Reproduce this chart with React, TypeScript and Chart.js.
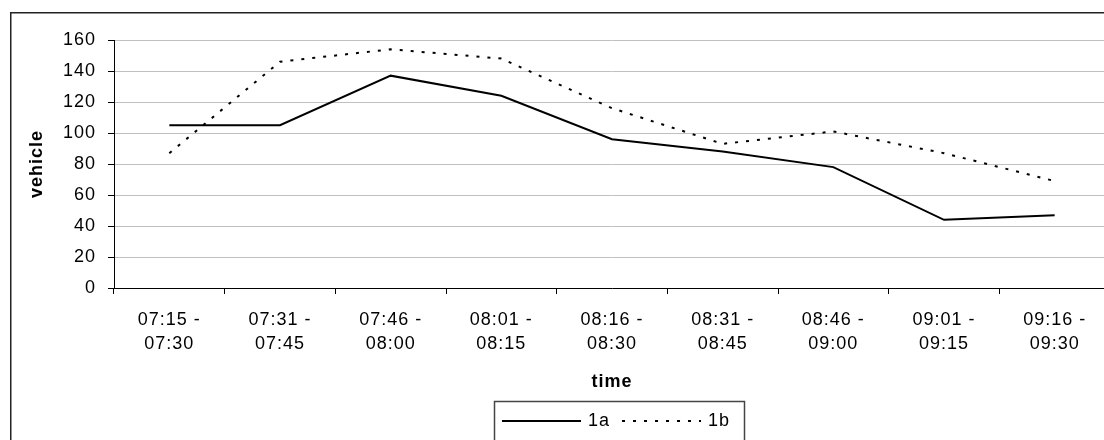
import React, { useEffect, useRef } from "react";
import { Chart, registerables } from "chart.js";

Chart.register(...registerables);

const categories: string[][] = [
  ["07:15 -", "07:30"],
  ["07:31 -", "07:45"],
  ["07:46 -", "08:00"],
  ["08:01 -", "08:15"],
  ["08:16 -", "08:30"],
  ["08:31 -", "08:45"],
  ["08:46 -", "09:00"],
  ["09:01 -", "09:15"],
  ["09:16 -", "09:30"],
];
const series1a: number[] = [105, 105, 137, 124, 96, 88, 78, 44, 47];
const series1b: number[] = [87, 146, 154, 148, 116, 93, 101, 87, 69];
const seriesNames: string[] = ["1a", "1b"];
const yTitle = "vehicle";
const xTitle = "time";

const FONT = "'Liberation Sans', Arial, sans-serif";
const FS = 18;

const spacing = {
  id: "spacing",
  beforeUpdate(chart: any) {
    chart.ctx.letterSpacing = "1px";
  },
  beforeDraw(chart: any) {
    chart.ctx.letterSpacing = "1px";
  },
};

const frameAndLegend = {
  id: "frameAndLegend",
  beforeDraw(chart: any) {
    const ctx = chart.ctx;
    ctx.save();
    ctx.fillStyle = "#ffffff";
    ctx.fillRect(0, 0, chart.width, chart.height);
    ctx.strokeStyle = "#222222";
    ctx.lineWidth = 1.5;
    ctx.strokeRect(10.75, 12.75, chart.width, chart.height);
    ctx.restore();
  },
  afterDraw(chart: any) {
    const ctx = chart.ctx;
    const area = chart.chartArea;
    const cx = (area.left + area.right) / 2 + 7;
    const boxW = 250;
    const left = cx - boxW / 2;
    const top = area.bottom + 113;
    ctx.save();
    ctx.strokeStyle = "#444444";
    ctx.lineWidth = 1.5;
    ctx.strokeRect(Math.round(left) + 0.5, Math.round(top) + 0.5, boxW, 60);
    ctx.font = `${FS}px ${FONT}`;
    ctx.textBaseline = "middle";
    ctx.fillStyle = "#000000";
    const midY = top + 20;
    let x = left + 8;
    chart.data.datasets.forEach((ds: any) => {
      ctx.strokeStyle = ds.borderColor;
      ctx.lineWidth = ds.borderWidth;
      ctx.setLineDash(ds.borderDash || []);
      ctx.beginPath();
      ctx.moveTo(x, midY);
      ctx.lineTo(x + 79, midY);
      ctx.stroke();
      ctx.setLineDash([]);
      const tx = x + 86;
      ctx.fillText(ds.label, tx, midY);
      x = tx + ctx.measureText(ds.label).width + 12;
    });
    ctx.restore();
  },
};

export default function App() {
  const canvasRef = useRef<HTMLCanvasElement | null>(null);

  useEffect(() => {
    if (!canvasRef.current) return;
    const chart = new Chart(canvasRef.current, {
      type: "line",
      data: {
        labels: categories,
        datasets: [
          {
            label: seriesNames[0],
            data: series1a,
            borderColor: "#000000",
            borderWidth: 2,
            pointRadius: 0,
            tension: 0,
            fill: false,
          },
          {
            label: seriesNames[1],
            data: series1b,
            borderColor: "#000000",
            borderWidth: 2,
            borderDash: [3, 8],
            pointRadius: 0,
            tension: 0,
            fill: false,
          },
        ],
      },
      options: {
        responsive: false,
        animation: false,
        devicePixelRatio: 1,
        layout: { padding: { left: 10, top: 40, right: 20, bottom: 76 } },
        plugins: {
          legend: { display: false },
          tooltip: { enabled: false },
        },
        scales: {
          x: {
            type: "category",
            offset: true,
            afterFit(scale: any) {
              scale.height = 106;
            },
            grid: {
              offset: true,
              drawOnChartArea: false,
              drawTicks: true,
              tickLength: 6,
              tickColor: "#000000",
              tickWidth: 1,
            },
            border: { color: "#000000", width: 1 },
            ticks: {
              color: "#000000",
              font: { family: FONT, size: FS, lineHeight: 24 / FS },
              padding: 14,
              maxRotation: 0,
              autoSkip: false,
            },
            title: {
              display: true,
              text: xTitle,
              color: "#000000",
              font: { family: FONT, size: FS, weight: "bold", lineHeight: 1.2 },
              padding: { top: 0, bottom: 1 },
            },
          },
          y: {
            min: 0,
            max: 160,
            afterFit(scale: any) {
              scale.width = 104;
            },
            ticks: {
              stepSize: 20,
              color: "#000000",
              font: { family: FONT, size: FS },
              padding: 12,
            },
            grid: {
              color: "#c0c0c0",
              lineWidth: 1,
              tickColor: "#000000",
              tickLength: 6,
              drawTicks: true,
            },
            border: { color: "#000000", width: 1 },
            title: {
              display: true,
              text: yTitle,
              color: "#000000",
              font: { family: FONT, size: FS, weight: "bold", lineHeight: 1.2 },
              padding: { top: 16, bottom: 0 },
            },
          },
        },
      },
      plugins: [spacing, frameAndLegend],
    });
    return () => chart.destroy();
  }, []);

  return (
    <div
      style={{
        position: "fixed",
        left: 0,
        top: 0,
        width: 1104,
        height: 440,
        overflow: "hidden",
        background: "#ffffff",
      }}
    >
      <canvas
        ref={canvasRef}
        width={1130}
        height={470}
        style={{ position: "absolute", left: 0, top: 0, width: 1130, height: 470 }}
      />
    </div>
  );
}
